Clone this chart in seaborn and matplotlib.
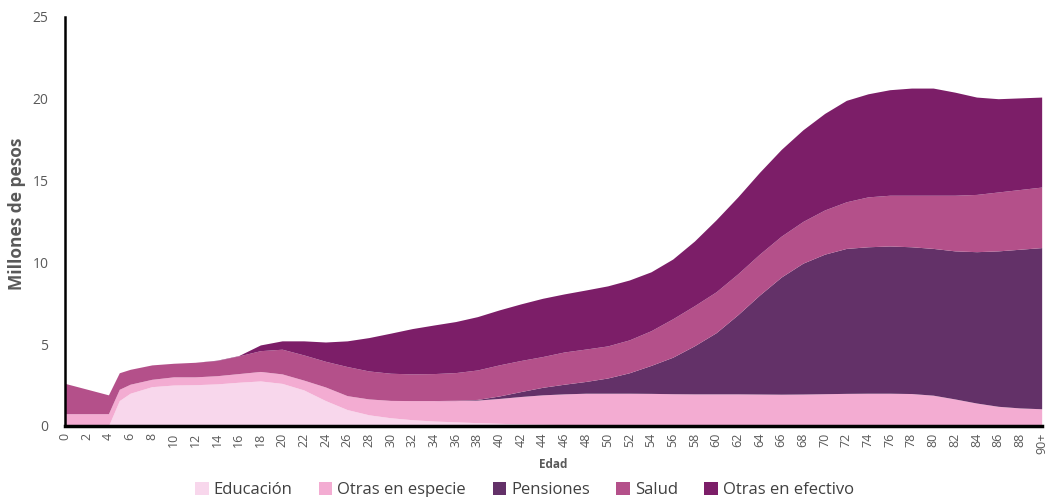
import matplotlib.pyplot as plt
from matplotlib.patches import Patch
import numpy as np
import seaborn as sns

# Edades (la ultima es 90+)
edades = [0, 2, 4, 5] + list(range(6, 91, 2))
etiquetas_x = [str(e) for e in range(0, 89, 2)] + ['90+']

# Valores por componente (millones de pesos)
educacion = [0, 0, 0, 1.55, 2.0, 2.4, 2.5, 2.52, 2.57, 2.67, 2.75, 2.6, 2.2, 1.55,
             1.0, 0.68, 0.5, 0.38, 0.3, 0.25, 0.2, 0.16, 0.12, 0.1, 0.08, 0.06, 0.05,
             0.05, 0.05, 0.05, 0.05, 0.05, 0.05, 0.05, 0.05, 0.05, 0.05, 0.05, 0.05,
             0.05, 0.05, 0.05, 0.05, 0.05, 0.05, 0.05, 0.05]
otras_especie = [0.75, 0.75, 0.75, 0.69, 0.55, 0.45, 0.5, 0.48, 0.5, 0.53, 0.58, 0.58,
                 0.6, 0.83, 0.85, 0.97, 1.06, 1.17, 1.25, 1.3, 1.38, 1.52, 1.68, 1.8,
                 1.88, 1.94, 1.95, 1.95, 1.94, 1.92, 1.91, 1.91, 1.91, 1.9, 1.89, 1.9,
                 1.92, 1.94, 1.95, 1.95, 1.93, 1.83, 1.6, 1.35, 1.15, 1.05, 1.0]
pensiones = [0, 0, 0, 0, 0, 0, 0, 0, 0, 0, 0, 0, 0, 0, 0, 0, 0, 0, 0, 0.02, 0.04,
             0.15, 0.3, 0.46, 0.59, 0.72, 0.93, 1.25, 1.71, 2.23, 2.94, 3.74, 4.84,
             6.05, 7.16, 8.0, 8.53, 8.86, 8.95, 9.0, 8.97, 8.97, 9.05, 9.25, 9.5,
             9.7, 9.85]
salud = [1.85, 1.5, 1.15, 1.01, 0.91, 0.88, 0.83, 0.89, 0.93, 1.08, 1.27, 1.51, 1.54,
         1.57, 1.78, 1.71, 1.66, 1.63, 1.65, 1.69, 1.8, 1.9, 1.9, 1.88, 1.97, 1.98,
         1.96, 2.01, 2.12, 2.35, 2.45, 2.5, 2.5, 2.5, 2.5, 2.55, 2.7, 2.85, 3.05, 3.1,
         3.15, 3.25, 3.4, 3.5, 3.6, 3.65, 3.7]
otras_efectivo = [0, 0, 0, 0, 0, 0, 0, 0, 0.02, 0.02, 0.35, 0.51, 0.86, 1.18, 1.57,
                  2.04, 2.45, 2.77, 2.97, 3.12, 3.26, 3.36, 3.46, 3.56, 3.55, 3.61,
                  3.67, 3.66, 3.6, 3.65, 3.95, 4.4, 4.7, 5.0, 5.3, 5.6, 5.9, 6.2, 6.3,
                  6.45, 6.55, 6.55, 6.3, 5.95, 5.7, 5.6, 5.5]

series = ['Educación', 'Otras en especie', 'Pensiones', 'Salud', 'Otras en efectivo']
colores = ['#F8D7EC', '#F3ACD2', '#633168', '#B4508A', '#7C1E68']

sns.set_theme(style='white')
plt.rcParams['font.family'] = ['Open Sans', 'DejaVu Sans']

fig = plt.figure(figsize=(10.49, 4.97), dpi=100)
ax = fig.add_axes([0.062, 0.143, 0.931, 0.823])

ax.stackplot(edades, educacion, otras_especie, pensiones, salud, otras_efectivo,
             colors=colores, linewidth=0)

ax.set_xlim(0, 90)
ax.set_ylim(0, 25)
ax.set_xticks(range(0, 91, 2))
ax.set_xticklabels(etiquetas_x, rotation=90, fontsize=9, color='#595959')
ax.set_yticks(range(0, 26, 5))
ax.tick_params(axis='y', labelsize=10, labelcolor='#595959', length=0, pad=12)
ax.tick_params(axis='x', length=0, pad=5)

sns.despine(ax=ax)
ax.spines['left'].set_linewidth(1.8)
ax.spines['bottom'].set_linewidth(2.5)
ax.spines['left'].set_color('black')
ax.spines['bottom'].set_color('black')

ax.set_xlabel('Edad', fontsize=8.5, fontweight='bold', color='#595959', labelpad=3)
fig.text(0.016, 0.57, 'Millones de pesos', rotation=90, ha='center', va='center',
         fontsize=12.5, fontweight='bold', color='#595959')

handles = [Patch(facecolor=c, edgecolor='none') for c in colores]
fig.legend(handles, series, loc='lower center', bbox_to_anchor=(0.5, -0.033),
           ncol=5, frameon=False, fontsize=12, handlelength=0.8, handleheight=0.8,
           handletextpad=0.3, columnspacing=1.6, labelcolor='#404040')

fig.savefig('out.png', dpi=100)
